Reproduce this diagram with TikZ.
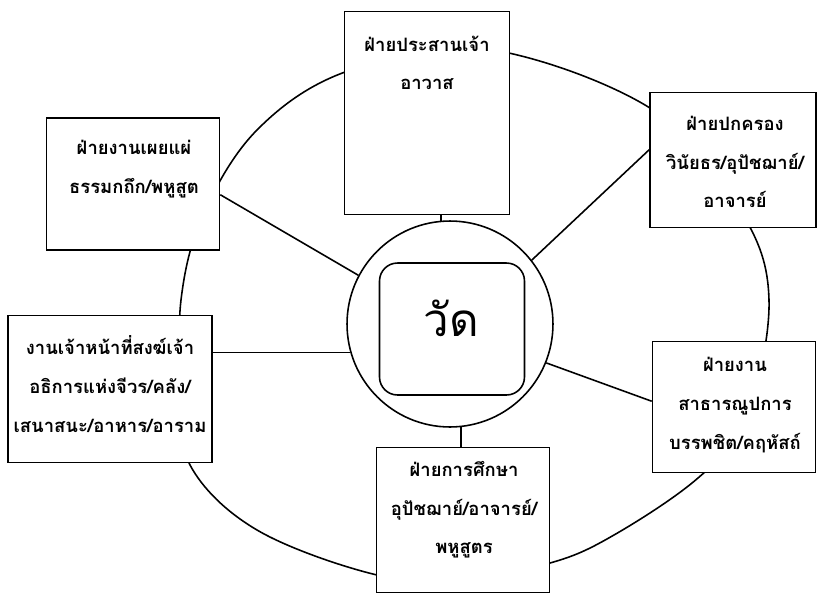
\documentclass[tikz,border=0pt]{standalone}
\usepackage{fontspec}
\newfontfamily\thaifont[Script=Thai]{Loma}
\usetikzlibrary{positioning}

\begin{document}
\begin{tikzpicture}[x=0.02cm, y=-0.02cm,
          dept/.style = {draw, fill=white, line width=0.9pt, inner sep=0pt},
          txt/.style  = {align=center, inner sep=0pt,
                         font=\thaifont\bfseries\fontsize{10.5}{22}\selectfont},
          wire/.style = {line width=0.9pt}
        ]
        \useasboundingbox (0,0) rectangle (819,596);

        % --- outer ring (drawn first, boxes cover it)
        \draw[wire] plot[smooth cycle, tension=0.6] coordinates {
          (181,300) (203,215) (257,130) (345,72) (480,48) (650,108)
          (740,210) (769,300) (746,420) (698,478) (614,535) (550,563)
          (460,578) (377,575) (257,530) (190,465) (182,390)};

        % --- centre
        \node[draw, circle, line width=0.9pt, minimum size=4.12cm] (hub) at (450,324) {};
        \node[draw, rounded corners=0.36cm, line width=0.9pt,
              minimum width=2.9cm, minimum height=2.64cm] (wat) at (452,329) {};
        \node[font=\thaifont\fontsize{26}{30}\selectfont, inner sep=0pt] (watt) at (451,318) {วัด};

        % --- divisions
        \node[dept, minimum width=3.3cm,  minimum height=4.06cm] (top) at (427,113) {};
        \node[dept, minimum width=3.46cm, minimum height=2.64cm] (lt)  at (133,184) {};
        \node[dept, minimum width=3.32cm, minimum height=2.7cm]  (rt)  at (733,160) {};
        \node[dept, minimum width=4.08cm, minimum height=2.94cm] (lm)  at (110,389) {};
        \node[dept, minimum width=3.26cm, minimum height=2.62cm] (rb)  at (734,407) {};
        \node[dept, minimum width=3.46cm, minimum height=2.9cm]  (bot) at (463,520) {};

        \node[txt] (topt) at (427,63)  {ฝ่ายประสานเจ้า\\อาวาส};
        \node[txt] (ltt)  at (134,169) {ฝ่ายงานเผยแผ่\\ธรรมกถึก/พหูสูต};
        \node[txt] (rtt)  at (735,162) {ฝ่ายปกครอง\\วินัยธร/อุปัชฌาย์/\\อาจารย์};
        \node[txt] (lmt)  at (110,384) {งานเจ้าหน้าที่สงฆ์เจ้า\\อธิการแห่งจีวร/คลัง/\\เสนาสนะ/อาหาร/อาราม};
        \node[txt] (rbt)  at (735,405) {ฝ่ายงาน\\สาธารณูปการ\\บรรพชิต/คฤหัสถ์};
        \node[txt] (bott) at (464,510) {ฝ่ายการศึกษา\\อุปัชฌาย์/อาจารย์/\\พหูสูตร};

        % --- spokes
        \draw[wire] (hub.95)  -- (hub.95 |- top.south);
        \draw[wire] (hub.-84) -- (hub.-84 |- bot.north);
        \draw[wire] (hub.196) -- (hub.196 -| lm.east);
        \draw[wire] (hub.152) -- (lt.-7);
        \draw[wire] (hub.38)  -- (rt.173);
        \draw[wire] (hub.-22) -- (rb.176);
    \end{tikzpicture}
\end{document}
